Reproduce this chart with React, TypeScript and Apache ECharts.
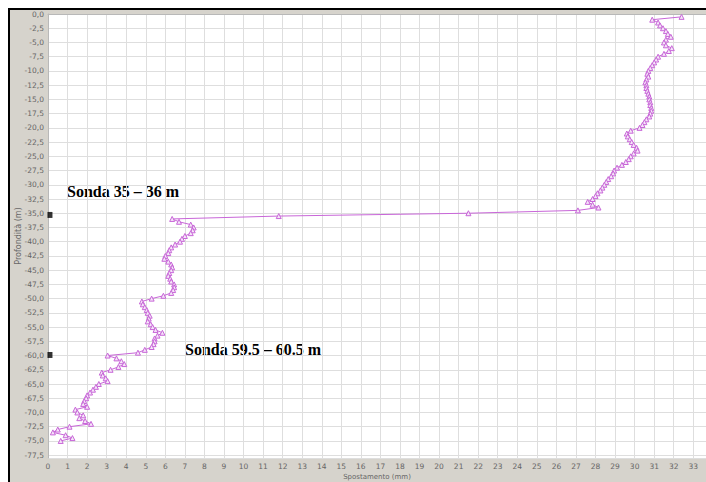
import React, { useEffect, useRef } from "react";
import * as echarts from "echarts";

// Depth below ground (m), plotted downward as negative values
const depths = [
  0.5, 1.0, 1.5, 2.0, 2.5, 3.0, 3.5, 4.0, 4.5, 5.0, 5.5, 6.0, 6.5, 7.0, 7.5, 8.0, 8.5, 9.0, 9.5, 10.0,
  10.5, 11.0, 11.5, 12.0, 12.5, 13.0, 13.5, 14.0, 14.5, 15.0, 15.5, 16.0, 16.5, 17.0, 17.5, 18.0, 18.5, 19.0, 19.5, 20.0,
  20.5, 21.0, 21.5, 22.0, 22.5, 23.0, 23.5, 24.0, 24.5, 25.0, 25.5, 26.0, 26.5, 27.0, 27.5, 28.0, 28.5, 29.0, 29.5, 30.0,
  30.5, 31.0, 31.5, 32.0, 32.5, 33.0, 33.5, 34.0, 34.5, 35.0, 35.5, 36.0, 36.5, 37.0, 37.5, 38.0, 38.5, 39.0, 39.5, 40.0,
  40.5, 41.0, 41.5, 42.0, 42.5, 43.0, 43.5, 44.0, 44.5, 45.0, 45.5, 46.0, 46.5, 47.0, 47.5, 48.0, 48.5, 49.0, 49.5, 50.0,
  50.5, 51.0, 51.5, 52.0, 52.5, 53.0, 53.5, 54.0, 54.5, 55.0, 55.5, 56.0, 56.5, 57.0, 57.5, 58.0, 58.5, 59.0, 59.5, 60.0,
  60.5, 61.0, 61.5, 62.0, 62.5, 63.0, 63.5, 64.0, 64.5, 65.0, 65.5, 66.0, 66.5, 67.0, 67.5, 68.0, 68.5, 69.0, 69.5, 70.0,
  70.5, 71.0, 71.5, 72.0, 72.5, 73.0, 73.5, 74.0, 74.5, 75.0,
];

// Cumulative displacement (mm)
const displacement = [
  32.4, 30.9, 31.2, 31.3, 31.45, 31.6, 31.7, 31.85, 31.6, 31.5, 31.6, 31.9, 31.75, 31.5, 31.2, 31.1, 31.0, 30.9, 30.8, 30.7,
  30.65, 30.7, 30.6, 30.55, 30.6, 30.6, 30.65, 30.7, 30.75, 30.75, 30.8, 30.8, 30.85, 30.85, 30.8, 30.75, 30.6, 30.5, 30.4, 30.25,
  29.8, 29.6, 29.65, 29.75, 29.85, 29.95, 30.1, 30.15, 29.95, 29.8, 29.7, 29.55, 29.35, 29.1, 28.95, 28.9, 28.8, 28.65, 28.55, 28.45,
  28.35, 28.25, 28.1, 28.0, 27.85, 27.6, 27.85, 28.15, 27.1, 21.5, 11.8, 6.35, 6.7, 7.3, 7.45, 7.4, 7.3, 7.0, 6.85, 6.75,
  6.5, 6.3, 6.2, 6.15, 6.0, 5.95, 6.15, 6.3, 6.35, 6.3, 6.2, 6.15, 6.25, 6.3, 6.45, 6.45, 6.4, 6.3, 5.9, 5.3,
  4.8, 4.85, 4.95, 5.05, 5.1, 5.2, 5.15, 5.1, 5.25, 5.35, 5.5, 5.85, 5.6, 5.45, 5.45, 5.4, 5.3, 4.95, 4.6, 3.05,
  3.5, 3.75, 3.9, 3.6, 3.2, 2.75, 2.8, 2.95, 3.05, 2.6, 2.45, 2.3, 2.15, 2.0, 1.95, 1.85, 1.8, 2.0, 1.4, 1.5,
  1.8, 1.6, 1.9, 2.2, 1.1, 0.5, 0.25, 0.9, 1.25, 0.65,
];

// Probe markers on the depth axis (m)
const probeDepths = [35.3, 59.9];
const probeX = [0.1, 0.1];

const annotations = ["Sonda 35 \u2013 36 m", "Sonda 59.5 \u2013 60.5 m"];

const xTitle = "Spostamento (mm)";
const yTitle = "Profondit\u00e0 (m)";

const fmtDepth = (v: number) => {
  if (Math.abs(v * 2 - Math.round(v * 2)) > 1e-6) return "";
  if (v === 0) return "0,0";
  return "-" + v.toFixed(1).replace(".", ",");
};

export default function App() {
  const ref = useRef<HTMLDivElement>(null);

  useEffect(() => {
    if (!ref.current) return;
    const chart = echarts.init(ref.current, undefined, { renderer: "svg" });
    const lineData = depths.map((d, i) => [displacement[i], d]);
    const probeData = probeDepths.map((d, i) => [probeX[i], d]);
    chart.setOption({
      animation: false,
      backgroundColor: "transparent",
      grid: {
        left: 38,
        right: 0,
        top: 4,
        bottom: 24,
        containLabel: false,
        outerBoundsMode: "none",
        show: true,
        backgroundColor: "#ffffff",
        borderWidth: 0,
      },
      xAxis: {
        type: "value",
        min: 0,
        max: 33.65,
        interval: 1,
        name: xTitle,
        nameLocation: "middle",
        nameGap: 15,
        nameMoveOverlap: false,
        nameTextStyle: { fontFamily: "DejaVu Sans", fontSize: 7, color: "#666" },
        axisLine: { show: true, lineStyle: { color: "#b8b8b8", width: 1 } },
        axisTick: { show: false },
        axisLabel: {
          fontFamily: "DejaVu Sans",
          fontSize: 7.5,
          color: "#666",
          margin: 4,
          showMaxLabel: false,
          formatter: (v: number) => (Math.abs(v - Math.round(v)) < 1e-6 ? String(Math.round(v)) : ""),
        },
        splitLine: { show: true, lineStyle: { color: "#dedede", width: 1 } },
      },
      yAxis: {
        type: "value",
        inverse: true,
        min: 0,
        max: 78,
        interval: 2.5,
        name: yTitle,
        nameLocation: "middle",
        nameGap: 26,
        nameMoveOverlap: false,
        nameRotate: 90,
        nameTextStyle: { fontFamily: "DejaVu Sans", fontSize: 8, color: "#666" },
        axisLine: { show: true, lineStyle: { color: "#b8b8b8", width: 1 } },
        axisTick: { show: false },
        axisLabel: {
          fontFamily: "DejaVu Sans",
          fontSize: 7.5,
          color: "#666",
          margin: 4,
          showMaxLabel: false,
          formatter: fmtDepth,
        },
        splitLine: { show: true, lineStyle: { color: "#dedede", width: 1 } },
      },
      series: [
        {
          type: "line",
          data: lineData,
          symbol: "triangle",
          symbolSize: 5,
          showAllSymbol: true,
          lineStyle: { color: "#c866d8", width: 1 },
          itemStyle: { color: "#f5e6f8", borderColor: "#c866d8", borderWidth: 1 },
          clip: false,
        },
        {
          type: "scatter",
          data: probeData,
          symbol: "rect",
          symbolSize: [5, 6],
          itemStyle: { color: "#000000" },
          clip: false,
        },
      ],
      graphic: [
        {
          type: "text",
          left: 57,
          top: 173,
          style: {
            text: annotations[0],
            fontFamily: "Liberation Serif",
            fontWeight: "bold",
            fontSize: 16,
            fill: "#000",
          },
        },
        {
          type: "text",
          left: 175,
          top: 331,
          style: {
            text: annotations[1],
            fontFamily: "Liberation Serif",
            fontWeight: "bold",
            fontSize: 16,
            fill: "#000",
          },
        },
      ],
    });
    return () => chart.dispose();
  }, []);

  return (
    <div
      style={{
        position: "fixed",
        left: 0,
        top: 0,
        width: 706,
        height: 482,
        background: "#ffffff",
        overflow: "hidden",
      }}
    >
      <div
        style={{
          position: "absolute",
          left: 8,
          top: 8,
          width: 698,
          height: 474,
          boxSizing: "border-box",
          borderTop: "2px solid #000",
          borderLeft: "2px solid #000",
          background: "#d6d3cc",
        }}
      >
        <div ref={ref} style={{ width: 696, height: 472 }} />
      </div>
    </div>
  );
}
